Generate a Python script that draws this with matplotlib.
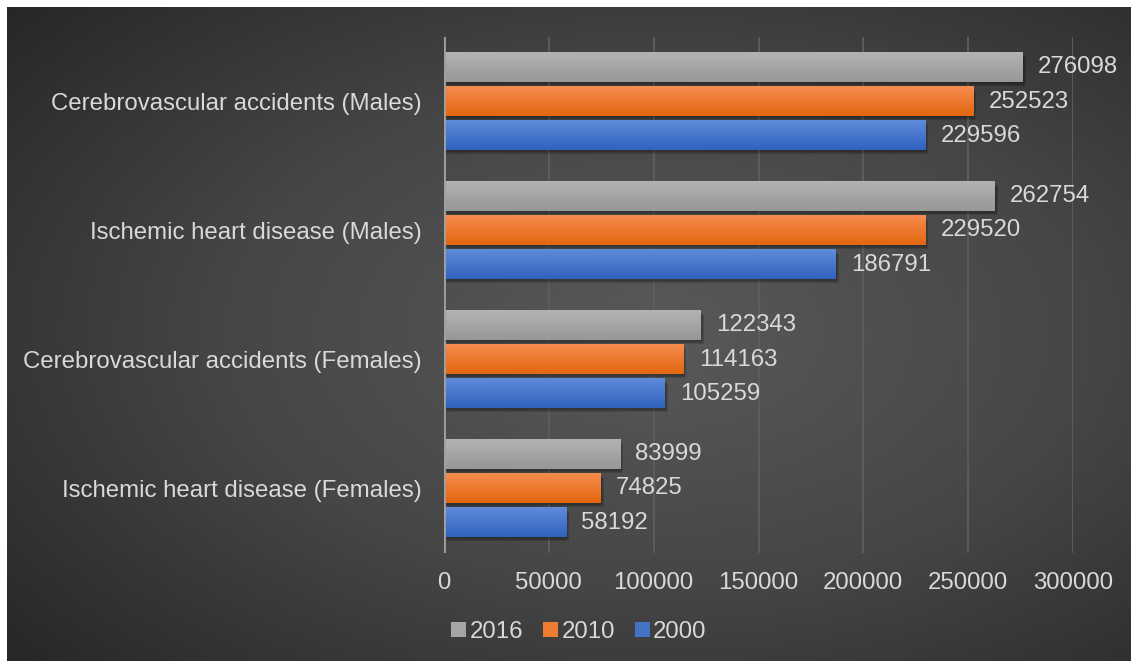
import numpy as np
import matplotlib.pyplot as plt
from matplotlib.patches import Patch, Rectangle
from matplotlib.colors import LinearSegmentedColormap
import matplotlib.transforms as mtransforms

# data
categories = ["Ischemic heart disease (Females)",
              "Cerebrovascular accidents (Females)",
              "Ischemic heart disease (Males)",
              "Cerebrovascular accidents (Males)"]
years = ["2016", "2010", "2000"]
vals_2016 = [83999, 122343, 262754, 276098]
vals_2010 = [74825, 114163, 229520, 252523]
vals_2000 = [58192, 105259, 186791, 229596]
x_ticks = [0, 50000, 100000, 150000, 200000, 250000, 300000]

# (top colour, bottom colour) per series
grads = {"2016": ("#b3b3b3", "#979797"),
         "2010": ("#f58c4e", "#e4660f"),
         "2000": ("#5f8bd9", "#3062bf")}
solid = {"2016": "#a5a5a5", "2010": "#ed7d31", "2000": "#4472c4"}

plt.rcParams['font.family'] = ['Liberation Sans', 'DejaVu Sans']
txt = "#d9d9d9"
fs = 17.3

W, H = 1134, 663
fig = plt.figure(figsize=(W / 100, H / 100), dpi=100)
fig.patch.set_facecolor("white")

# dark radial background
bg = fig.add_axes([7 / W, 1 - 661 / H, (1131 - 7) / W, (661 - 7) / H])
bg.set_axis_off()
yy, xx = np.mgrid[0:1:300j, 0:1:500j]
r = np.sqrt(((xx - 0.58) / 0.75) ** 2 + ((yy - 0.5) / 0.75) ** 2)
r = np.clip(r / r.max(), 0, 1)
bg_cmap = LinearSegmentedColormap.from_list("bg", ["#595959", "#464646", "#272727"])
bg.imshow(r, cmap=bg_cmap, aspect="auto", extent=[0, 1, 0, 1], origin="lower")
bg.set_xlim(0, 1)
bg.set_ylim(0, 1)

ax = fig.add_axes([444 / W, 1 - 553 / H, (1073 - 444) / W, (553 - 37) / H])
ax.patch.set_alpha(0)

bh = 0.225
off = 0.264
series = [("2016", vals_2016, off), ("2010", vals_2010, 0.0), ("2000", vals_2000, -off)]
ypos = np.arange(len(categories))

for name, vals, dy in series:
    cmap = LinearSegmentedColormap.from_list(name, [grads[name][1], grads[name][0]])
    for y, v in zip(ypos, vals):
        y0 = y + dy - bh / 2
        # soft shadow
        for k, a in enumerate([0.10, 0.12, 0.15]):
            ax.add_patch(Rectangle((0, y0), v, bh, facecolor="black", alpha=a,
                                   edgecolor="none", zorder=2,
                                   transform=mtransforms.offset_copy(
                                       ax.transData, fig=fig, x=1 + k, y=-(2 + k), units="dots")))
        ax.imshow(np.linspace(0, 1, 50).reshape(-1, 1), cmap=cmap, aspect="auto",
                  extent=[0, v, y0, y0 + bh], origin="lower", zorder=3)
        ax.annotate(str(v), (v, y + dy), xytext=(11, 0), textcoords="offset points",
                    va="center", ha="left", color=txt, fontsize=fs, zorder=4)

ax.set_xlim(0, 300000)
ax.set_ylim(-0.5, len(categories) - 0.5)
ax.set_xticks(x_ticks)
ax.set_xticklabels([str(t) for t in x_ticks])
ax.set_yticks(ypos)
ax.set_yticklabels(categories)
ax.tick_params(axis="both", length=0, colors=txt, labelsize=fs)
ax.tick_params(axis="x", pad=14)
ax.tick_params(axis="y", pad=16)
for s in ax.spines.values():
    s.set_visible(False)
ax.grid(axis="x", color="#5e5e5e", linewidth=1.3, zorder=0)
ax.set_axisbelow(True)
ax.axvline(0, color="#a0a0a0", linewidth=2, zorder=5)

handles = [Patch(facecolor=solid[n], edgecolor="none") for n in years]
fig.legend(handles, years, loc="center", bbox_to_anchor=(579 / W, 1 - 632 / H),
           ncol=3, frameon=False, fontsize=fs, labelcolor=txt,
           handlelength=0.6, handleheight=0.6, handletextpad=0.15, columnspacing=0.85)

fig.savefig("out.png", dpi=100)
